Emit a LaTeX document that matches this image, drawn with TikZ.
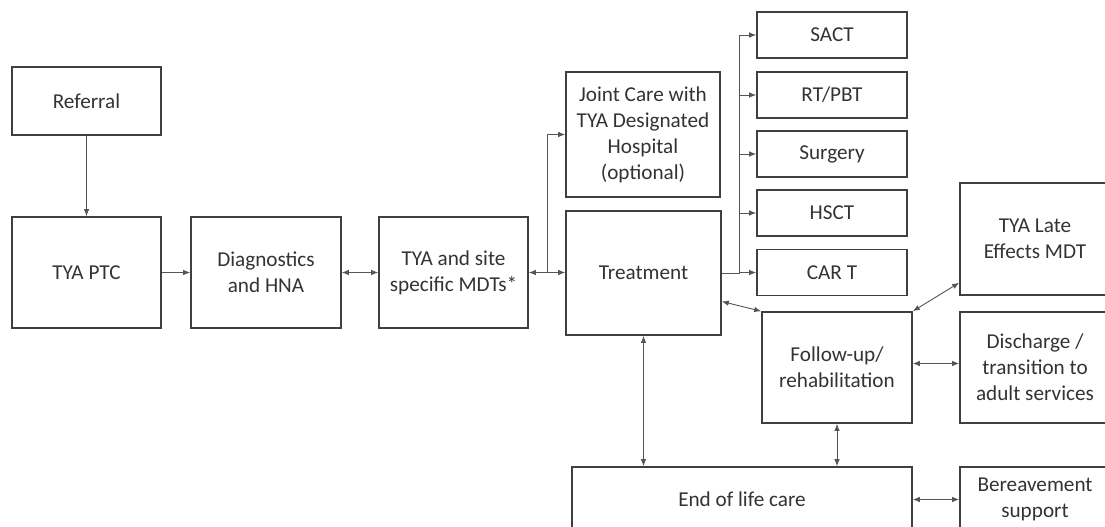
\documentclass[tikz,border=0pt]{standalone}
\usepackage{fontspec}
\setmainfont{Carlito}
\usetikzlibrary{arrows.meta, calc}
\definecolor{edge}{HTML}{3F3F3F}
\definecolor{ink}{HTML}{333333}
\definecolor{wire}{HTML}{555555}
\tikzstyle{box} = [rectangle,draw=edge,line width=1.6pt,text=ink,align=center,inner sep=0pt,font=\fontsize{21.2}{26}\selectfont]
\tikzstyle{wireline} = [draw=wire,line width=0.9pt]
\tikzstyle{link} = [wireline,-{Latex[length=7pt,width=5.5pt]}]
\tikzstyle{both} = [wireline,{Latex[length=7pt,width=5.5pt]}-{Latex[length=7pt,width=5.5pt]}]
\begin{document}
\begin{tikzpicture}[x=1pt,y=-1pt]
	\clip (0,0) rectangle (1105,527);

	\node[box,minimum width=149pt,minimum height=68pt](ref) at (86.5,101) {Referral};
	\node[box,minimum width=149pt,minimum height=111pt](ptc) at (86.5,272.5) {TYA PTC};
	\node[box,minimum width=150pt,minimum height=111pt](diag) at (266,272.5) {Diagnostics\\and HNA};
	\node[box,minimum width=149pt,minimum height=111pt](mdt) at (453.5,272.5) {TYA and site\\specific MDTs*};
	\node[box,minimum width=154pt,minimum height=125pt](joint) at (643,134.5) {Joint Care with\\TYA Designated\\Hospital\\(optional)};
	\node[box,minimum width=155pt,minimum height=124pt](treat) at (643.5,273) {Treatment};

	\node[box,minimum width=150pt,minimum height=46pt](sact) at (832,35) {SACT};
	\node[box,minimum width=150pt,minimum height=46pt](rt) at (832,95) {RT/PBT};
	\node[box,minimum width=150pt,minimum height=46pt](surg) at (832,154) {Surgery};
	\node[box,minimum width=150pt,minimum height=46pt](hsct) at (832,213) {HSCT};
	\node[box,minimum width=150pt,minimum height=46pt](cart) at (832,272.5) {CAR T};

	\node[box,minimum width=150pt,minimum height=112pt](late) at (1035,239) {TYA Late\\Effects MDT};
	\node[box,minimum width=150pt,minimum height=111pt](fu) at (837,367.5) {Follow-up/\\rehabilitation};
	\node[box,minimum width=150pt,minimum height=111pt](dis) at (1035,367.5) {Discharge /\\transition to\\adult services};
	\node[box,minimum width=340pt,minimum height=65pt](eol) at (742,499.5) {End of life care};
	\node[box,minimum width=150pt,minimum height=65pt](ber) at (1035,499.5) {Bereavement\\support};

	% pathway
	\draw[link] (ref) -- (ptc);
	\draw[link] (ptc) -- (diag);
	\draw[both] (diag) -- (mdt);
	\draw[both] (mdt.east) -- (mdt.east -| treat.west);
	\coordinate (split) at ($(mdt.east)!0.5!(treat.west)$);
	\draw[link] (split) |- (joint.west);

	% treatment options
	\coordinate (fork) at ($(treat.east)+(18,0)$);
	\draw[wireline] (treat.east) -- (fork) (fork |- sact.west) -- (fork |- cart.west);
	\draw[link] (fork |- sact.west) -- (sact.west);
	\draw[link] (fork |- rt.west) -- (rt.west);
	\draw[link] (fork |- surg.west) -- (surg.west);
	\draw[link] (fork |- hsct.west) -- (hsct.west);
	\draw[link] (fork |- cart.west) -- (cart.west);

	% after treatment
	\draw[both] (treat.-20) -- (fu.north west);
	\draw[both] (fu.north east) -- (late.210);
	\draw[both] ([yshift=4pt]fu.east) -- ([yshift=4pt]dis.west);
	\draw[both] (fu.south) -- (fu.south |- eol.north);
	\draw[both] (treat.south) -- (treat.south |- eol.north);
	\draw[both] (eol.east) -- (ber.west);

\end{tikzpicture}
\end{document}
